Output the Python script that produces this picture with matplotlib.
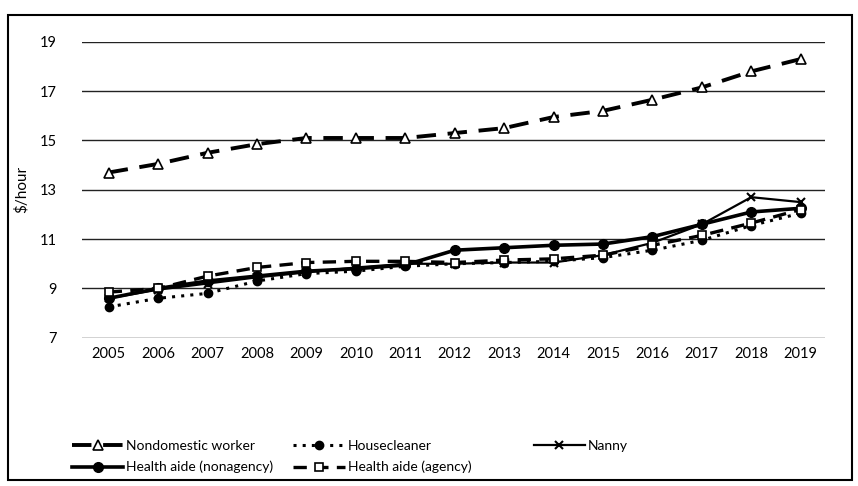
import matplotlib
matplotlib.use("Agg")
import matplotlib.pyplot as plt
from matplotlib.patches import Rectangle

plt.rcParams['font.family'] = ['Lato', 'DejaVu Sans']

# datos
years = list(range(2005, 2020))
nondomestic = [13.7, 14.05, 14.5, 14.85, 15.1, 15.1, 15.1, 15.3, 15.5, 15.95, 16.2, 16.65, 17.15, 17.8, 18.3]
housecleaner = [8.25, 8.6, 8.8, 9.3, 9.6, 9.7, 9.9, 10.0, 10.05, 10.1, 10.25, 10.55, 10.95, 11.55, 12.05]
nanny = [8.6, 8.95, 9.2, 9.45, 9.65, 9.85, 10.0, 10.0, 10.05, 10.05, 10.35, 10.85, 11.6, 12.7, 12.5]
aide_nonagency = [8.6, 9.0, 9.3, 9.5, 9.7, 9.8, 9.95, 10.55, 10.65, 10.75, 10.8, 11.1, 11.6, 12.1, 12.25]
aide_agency = [8.85, 9.0, 9.5, 9.85, 10.05, 10.1, 10.1, 10.05, 10.15, 10.2, 10.35, 10.75, 11.15, 11.65, 12.2]
y_ticks = [7, 9, 11, 13, 15, 17, 19]

fig = plt.figure(figsize=(8.58, 4.86), dpi=100)
ax = fig.add_axes([0.095, 0.305, 0.867, 0.609])

l1, = ax.plot(years, nondomestic, color='black', lw=2.8, ls=(0, (5, 3)),
              marker='^', markersize=7, markerfacecolor='white', markeredgecolor='black',
              markeredgewidth=1.2, label='Nondomestic worker')
l2, = ax.plot(years, housecleaner, color='black', lw=2.2, ls=(0, (1, 2)),
              marker='o', markersize=6, label='Housecleaner')
l3, = ax.plot(years, nanny, color='black', lw=1.6, ls='-',
              marker='x', markersize=6, markeredgewidth=1.5, label='Nanny')
l4, = ax.plot(years, aide_nonagency, color='black', lw=2.6, ls='-',
              marker='o', markersize=7, label='Health aide (nonagency)')
l5, = ax.plot(years, aide_agency, color='black', lw=2.4, ls=(0, (4, 2.5)),
              marker='s', markersize=6, markerfacecolor='white', markeredgecolor='black',
              markeredgewidth=1.2, label='Health aide (agency)')

ax.set_xlim(2004.45, 2019.5)
ax.set_ylim(7, 19)
ax.set_xticks(years)
ax.set_xticklabels([str(y) for y in years], fontsize=10.5)
ax.set_yticks(y_ticks)
ax.set_yticklabels([str(v) for v in y_ticks], fontsize=10.5)
ax.tick_params(axis='x', length=0, pad=7)
ax.tick_params(axis='y', length=0, pad=18)
ax.grid(axis='y', color='#222222', lw=1.0)
ax.set_axisbelow(True)
for s in ax.spines.values():
    s.set_visible(False)
ax.set_ylabel('$/hour', fontsize=11)
ax.yaxis.set_label_coords(-0.071, 0.5)

# leyenda: una por columna para colocarlas como en el original
opts = dict(loc='upper left', frameon=False, fontsize=10, handlelength=3.7,
            handletextpad=0.2, labelspacing=0.65, borderpad=0, borderaxespad=0)
leg1 = fig.legend([l1, l4], [l1.get_label(), l4.get_label()],
                  bbox_to_anchor=(0.084, 0.095), **opts)
leg2 = fig.legend([l2, l5], [l2.get_label(), l5.get_label()],
                  bbox_to_anchor=(0.342, 0.095), **opts)
leg3 = fig.legend([l3], [l3.get_label()],
                  bbox_to_anchor=(0.622, 0.095), **opts)

# marco exterior
fig.patches.append(Rectangle((0.009, 0.012), 0.984, 0.958, transform=fig.transFigure,
                             fill=False, edgecolor='black', lw=1.5))

fig.savefig('out.png', dpi=100)
